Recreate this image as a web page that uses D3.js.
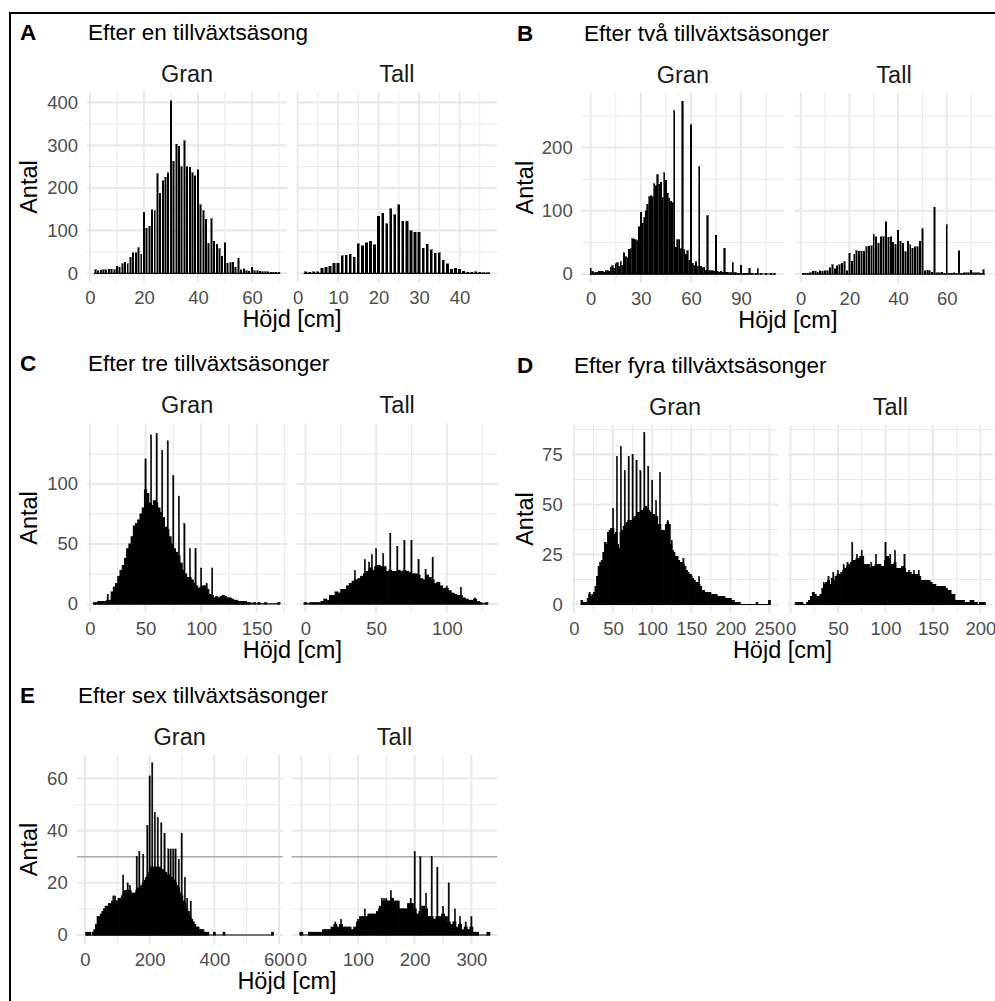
<!DOCTYPE html>
<html><head><meta charset="utf-8">
<script src="https://cdn.jsdelivr.net/npm/d3@7"></script>
<style>
html,body{margin:0;padding:0;background:#fff;}
svg{display:block;}
text{font-family:"Liberation Sans", Arial, Helvetica, sans-serif;}
</style></head><body>
<svg id="chart" width="995" height="1001"></svg>
<script>
// ================= DATA =================
const panelLetters = ["A","B","C","D","E"];
const panelTitles = ["Efter en tillväxtsäsong","Efter två tillväxtsäsonger","Efter tre tillväxtsäsonger","Efter fyra tillväxtsäsonger","Efter sex tillväxtsäsonger"];
const speciesNames = ["Gran","Tall"];
const xAxisTitle = "Höjd [cm]";
const yAxisTitle = "Antal";

// tick labels
const yTicksA = [0,100,200,300,400];
const yTicksB = [0,100,200];
const yTicksC = [0,50,100];
const yTicksD = [0,25,50,75];
const yTicksE = [0,20,40,60];
const xTicksAGran = [0,20,40,60];
const xTicksATall = [0,10,20,30,40];
const xTicksBGran = [0,30,60,90];
const xTicksBTall = [0,20,40,60];
const xTicksCGran = [0,50,100,150];
const xTicksCTall = [0,50,100];
const xTicksDGran = [0,50,100,150,200,250];
const xTicksDTall = [0,50,100,150,200];
const xTicksEGran = [0,200,400,600];
const xTicksETall = [0,100,200,300];

// counts per height class (cm). start = first class, bin = class width
const aGranStart = 2, aGranBin = 1;
const aGranCounts = [8,6,7,8,8,9,9,8,17,14,22,26,22,38,48,48,60,44,143,105,110,149,146,233,188,217,225,235,404,263,302,298,250,310,250,248,236,228,243,160,147,127,70,128,75,68,58,40,72,23,25,26,14,35,8,11,6,5,14,6,6,5,4,4,3,2,2,2,2];
const aTallStart = 2, aTallBin = 1;
const aTallCounts = [4,2,3,3,12,14,16,23,23,41,42,45,37,69,65,71,75,67,134,141,116,151,137,160,122,122,100,96,96,59,68,55,47,48,30,22,9,12,9,5,2,2,3,2,1,1];

const bGranStart = 0, bGranBin = 1;
const bGranCounts = [9,4,2,3,3,4,4,4,3,5, 5,4,11,13,9,16,18,12,19,14, 34,27,26,39,40,56,55,54,53,75, 98,80,90,100,110,122,124,122,143,140, 157,142,145,121,160,148,128,120,115,113, 258,42,54,54,40,273,38,31,37,22, 236,17,14,19,12,170,12,10,11,6, 92,6,5,5,4,61,4,3,4,3, 41,3,3,2,2,18,2,2,1,1, 14,1,1,1,1,9,1,1,0,1, 8,0,1,0,0,1,0,0,1,0,1];
const bTallStart = 1, bTallBin = 1;
const bTallCounts = [1,1,1,2,4,4,3,5,4,5, 5,10,15,8,13,15,17,19,5,33, 20,31,37,36,36,36,43,44,45,63, 59,49,59,59,83,58,59,50,47,69, 52,49,35,52,46,41,43,43,52,72, 5,6,5,3,106,2,2,3,1,78, 1,1,2,1,37,1,2,2,2,6, 2,2,2,1,7];

const cGranStart = 4, cGranBin = 2;
const cGranCounts = [1,1,2,2,2,2,3,3,10,14, 17,23,28,32,38,46,50,56,65,67, 70,75,80,95,92,84,82,86,84,80, 76,72,64,62,56,50,46,43,40,34, 28,25,22,22,20,17,15,13,14,15, 15,12,8,7,5,6,5,6,7,6, 5,5,4,3,3,2,2,2,2,1, 1,0,1,0,1,0,0,1,0,0, 0,0,0,1];
const cGranSpikes = [[16,8],[50,121],[55,141],[60,142],[65,128],[70,136],[75,107],[80,90],[85,67],[90,46],[95,46],[100,30],[105,17],[110,30]];
const cTallStart = 0, cTallBin = 2;
const cTallCounts = [1,0,1,1,1,1,2,4,3,7, 7,10,9,12,12,15,17,19,20,21, 23,25,27,30,28,31,32,31,31,27, 28,27,27,28,27,28,27,26,25,25, 24,21,20,24,22,20,17,18,15,13, 13,11,9,8,7,7,5,4,3,3, 4,2,1,0,1];
const cTallSpikes = [[35,28],[42,37],[45,35],[47,41],[50,46],[55,42],[60,59],[65,48],[70,53],[75,53],[80,37],[85,29],[90,39],[100,15],[110,14],[120,5]];

const dGranStart = 10, dGranBin = 2;
const dGranCounts = [2,1,1,1,3,5,4,5,6,9, 14,19,21,22,26,31,30,36,37,38, 38,35,36,30,28,36,37,39,40,41, 42,42,42,43,44,44,46,46,47,47, 48,49,48,47,46,45,45,44,44,40, 40,37,37,37,40,41,40,30,27,26, 24,24,22,21,21,20,19,17,16,15, 14,13,12,11,11,10,9,7,7,6, 6,6,6,5,5,5,5,4,4,4, 4,4,3,3,3,3,2,2,1,1, 1,1,0,0,0,0,0,0,0,0, 0,0,1,0,0,0,0,0,0,0, 2];
const dGranSpikes = [[20,6],[50,48],[55,74],[60,79],[65,67],[70,74],[75,75],[80,72],[85,67],[90,86],[95,69],[100,62],[105,52],[110,66],[120,42],[125,32],[140,23],[150,15],[160,14]];
const dTallStart = 6, dTallBin = 2;
const dTallCounts = [1,1,1,1,0,0,1,2,4,6, 5,4,4,5,8,10,11,12,10,13, 12,14,15,15,16,17,18,19,20,21, 22,22,23,23,24,24,20,20,20,18, 19,19,20,20,20,19,19,22,24,23, 20,20,21,18,18,18,19,18,16,16, 16,15,15,15,15,14,12,12,12,12, 12,11,10,10,9,9,9,9,9,8, 7,7,5,5,2,2,2,2,2,1, 1,1,2,2,1,1,0,1,1,1];
const dTallSpikes = [[35,11],[40,14],[45,16],[50,17],[56,20],[60,21],[65,31],[70,25],[75,27],[85,21],[90,25],[100,31],[105,25],[110,27],[120,25],[125,17],[130,17],[135,17]];

const eGranStart = 5, eGranBin = 5;
const eGranCounts = [1,1,1,0,1,2,4,7,7,8, 9,10,11,11,12,12,13,13,13,13, 14,14,15,16,17,17,17,17,16,16, 16,17,18,18,19,20,21,22,23,24, 26,26,26,26,26,26,25,25,24,24, 23,23,22,22,21,20,19,18,16,15, 13,12,10,9,7,6,5,4,3,3, 2,2,2,1,1,1,0,0,0,1, 0,0,0,0,0,1,0,0,0,0, 0,0,0,0,0,0,0,0,0,0, 0,0,0,0,0,0,0,0,0,0, 0,0,0,0,0,1];
const eGranSpikes = [[50,7],[60,10],[70,11],[88,15],[93,15],[118,23],[132,20],[139,19],[160,30],[168,32],[180,31],[193,42],[200,61],[208,66],[216,47],[225,45],[236,43],[246,39],[258,33],[265,33],[273,33],[280,33],[290,29],[299,39],[309,22],[316,14],[327,13]];
const eTallStart = 0, eTallBin = 5;
const eTallCounts = [1,0,0,1,1,1,1,1,2,2, 2,3,4,3,4,3,3,3,2,3, 5,7,7,7,8,8,8,9,11,13, 13,13,14,13,13,10,10,10,12,12, 10,8,9,11,10,7,7,6,7,7, 8,7,5,4,5,3,4,2,3,2, 3,1,1,0,0,0,1];
const eTallSpikes = [[55,3],[60,5],[70,6],[100,6],[112,10],[137,10],[142,14],[146,14],[150,14],[158,17],[193,14],[200,32],[210,30],[220,16],[230,30],[240,26],[250,11],[260,20],[271,10],[280,7],[290,5],[300,7]];
const eReferenceLine = 30;

// ================= LAYOUT =================
const FONT = '"Liberation Sans", Arial, Helvetica, sans-serif';
const blocks = [
  {letter:panelLetters[0], title:panelTitles[0], letterX:20, titleX:88, yTitleX:37, top:92.2, bottom:281.9, yDomain:[-20.2,424.2], yTicks:yTicksA,
   panels:[{x0:87,x1:287,xDomain:[-1.1,73],xTicks:xTicksAGran,start:aGranStart,bin:aGranBin,counts:aGranCounts,spikes:[],frac:0.55,sw:0.5,crisp:true},
           {x0:296.6,x1:497,xDomain:[-0.25,49.25],xTicks:xTicksATall,start:aTallStart,bin:aTallBin,counts:aTallCounts,spikes:[],frac:0.55,sw:0.5,crisp:true}]},
  {letter:panelLetters[1], title:panelTitles[1], letterX:517, titleX:584, yTitleX:533, top:92.7, bottom:282.6, yDomain:[-13.6,286.9], yTicks:yTicksB,
   panels:[{x0:581.7,x1:784,xDomain:[-5.4,115.7],xTicks:xTicksBGran,start:bGranStart,bin:bGranBin,counts:bGranCounts,spikes:[],frac:0.8,sw:0.6,crisp:true},
           {x0:794,x1:994,xDomain:[-2.75,79.4],xTicks:xTicksBTall,start:bTallStart,bin:bTallBin,counts:bTallCounts,spikes:[],frac:0.6,sw:0.5,crisp:true}]},
  {letter:panelLetters[2], title:panelTitles[2], letterX:20, titleX:88, yTitleX:37, top:423.3, bottom:612.6, yDomain:[-7.2,150.6], yTicks:yTicksC,
   panels:[{x0:87,x1:287.3,xDomain:[-2.7,177.6],xTicks:xTicksCGran,start:cGranStart,bin:cGranBin,counts:cGranCounts,spikes:cGranSpikes,frac:1,sw:1,crisp:false},
           {x0:296.7,x1:497.7,xDomain:[-6.2,136],xTicks:xTicksCTall,start:cTallStart,bin:cTallBin,counts:cTallCounts,spikes:cTallSpikes,frac:1,sw:1,crisp:false}]},
  {letter:panelLetters[3], title:panelTitles[3], letterX:517, titleX:574, yTitleX:533, top:425, bottom:613.1, yDomain:[-4.3,89.75], yTicks:yTicksD,
   panels:[{x0:571.7,x1:778.3,xDomain:[-2.9,261.3],xTicks:xTicksDGran,start:dGranStart,bin:dGranBin,counts:dGranCounts,spikes:dGranSpikes,frac:1,sw:1,crisp:false},
           {x0:787.3,x1:993.3,xDomain:[-3.4,213.5],xTicks:xTicksDTall,start:dTallStart,bin:dTallBin,counts:dTallCounts,spikes:dTallSpikes,frac:1,sw:1,crisp:false}]},
  {letter:panelLetters[4], title:panelTitles[4], letterX:20, titleX:78, yTitleX:37, top:755, bottom:944, yDomain:[-3.45,69], yTicks:yTicksE, refLine:eReferenceLine,
   panels:[{x0:76.7,x1:282.7,xDomain:[-25.7,611.5],xTicks:xTicksEGran,start:eGranStart,bin:eGranBin,counts:eGranCounts,spikes:eGranSpikes,frac:1,sw:1,crisp:false},
           {x0:291.7,x1:497.3,xDomain:[-17,345.7],xTicks:xTicksETall,start:eTallStart,bin:eTallBin,counts:eTallCounts,spikes:eTallSpikes,frac:1,sw:1,crisp:false}]}
];

const svg = d3.select("#chart");
svg.append("rect").attr("width",995).attr("height",1001).attr("fill","#fff");

function minorBreaks(b, dom){
  const d = b[1]-b[0];
  const ext = [b[0]-d, ...b, b[b.length-1]+d];
  const m = [];
  for(let i=0;i<ext.length-1;i++) m.push((ext[i]+ext[i+1])/2);
  return m.filter(v=>v>=dom[0] && v<=dom[1]);
}

const GRID = "#e9e9e9";
const TICKFS = 18.5;

blocks.forEach(blk => {
  const g = svg.append("g");
  const y = d3.scaleLinear().domain(blk.yDomain).range([blk.bottom, blk.top]);
  const yMinor = minorBreaks(blk.yTicks, blk.yDomain);

  blk.panels.forEach((p, pi) => {
    const x = d3.scaleLinear().domain(p.xDomain).range([p.x0, p.x1]);
    const pg = g.append("g");
    const xMinor = minorBreaks(p.xTicks, p.xDomain);
    // minor grid
    pg.append("g").selectAll("line").data(yMinor).join("line")
      .attr("x1",p.x0).attr("x2",p.x1).attr("y1",d=>y(d)).attr("y2",d=>y(d))
      .attr("stroke",GRID).attr("stroke-width",1);
    pg.append("g").selectAll("line").data(xMinor).join("line")
      .attr("y1",blk.top).attr("y2",blk.bottom).attr("x1",d=>x(d)).attr("x2",d=>x(d))
      .attr("stroke",GRID).attr("stroke-width",1);
    // major grid
    pg.append("g").selectAll("line").data(blk.yTicks).join("line")
      .attr("x1",p.x0).attr("x2",p.x1).attr("y1",d=>y(d)).attr("y2",d=>y(d))
      .attr("stroke",GRID).attr("stroke-width",2);
    pg.append("g").selectAll("line").data(p.xTicks.filter(t=>t>=p.xDomain[0]&&t<=p.xDomain[1])).join("line")
      .attr("y1",blk.top).attr("y2",blk.bottom).attr("x1",d=>x(d)).attr("x2",d=>x(d))
      .attr("stroke",GRID).attr("stroke-width",2);
    // reference line
    if (blk.refLine !== undefined) {
      pg.append("line").attr("x1",p.x0).attr("x2",p.x1)
        .attr("y1",y(blk.refLine)).attr("y2",y(blk.refLine))
        .attr("stroke","#aaaaaa").attr("stroke-width",1.5);
    }
    // baseline (empty classes)
    const last = p.start + (p.counts.length-1)*p.bin;
    pg.append("line").attr("x1",x(p.start - p.bin/2)).attr("x2",x(last + p.bin/2))
      .attr("y1",y(0)).attr("y2",y(0)).attr("stroke","#000").attr("stroke-width",1.2);
    // bars
    const bars = p.counts.map((c,i)=>({v:p.start+i*p.bin, c:c})).filter(d=>d.c>0);
    const hw = p.frac*p.bin/2;
    const bg = pg.append("g");
    if (p.crisp) bg.attr("shape-rendering","crispEdges");
    bg.selectAll("rect").data(bars).join("rect")
      .attr("x",d=>x(d.v-hw)).attr("width",d=>x(d.v+hw)-x(d.v-hw))
      .attr("y",d=>y(d.c)).attr("height",d=>y(0)-y(d.c))
      .attr("fill","#000").attr("stroke","#000").attr("stroke-width",p.sw);
    // spikes (single-cm classes)
    const spw = d => Math.max(1.3, x(d[0]+0.25)-x(d[0]-0.25));
    pg.append("g").selectAll("rect").data(p.spikes).join("rect")
      .attr("x",d=>x(d[0])-spw(d)/2).attr("width",spw)
      .attr("y",d=>y(d[1])).attr("height",d=>y(0)-y(d[1]))
      .attr("fill","#000").attr("stroke","#000").attr("stroke-width",0.4);

    // x axis
    const xa = pg.append("g").attr("transform",`translate(0,${blk.bottom})`)
      .call(d3.axisBottom(x).tickValues(p.xTicks).tickSize(0).tickPadding(9).tickFormat(d3.format("d")));
    xa.select(".domain").remove();
    xa.selectAll("text").attr("font-family",FONT).attr("font-size",TICKFS).attr("fill","#4d4d4d");

    // y axis for first panel only
    if (pi === 0) {
      const ya = pg.append("g").attr("transform",`translate(${p.x0},0)`)
        .call(d3.axisLeft(y).tickValues(blk.yTicks).tickSize(0).tickPadding(9).tickFormat(d3.format("d")));
      ya.select(".domain").remove();
      ya.selectAll("text").attr("font-family",FONT).attr("font-size",TICKFS).attr("fill","#4d4d4d");
    }
    // strip label
    pg.append("text").attr("x",(p.x0+p.x1)/2).attr("y",blk.top-10)
      .attr("text-anchor","middle").attr("font-size",23.5).attr("fill","#1a1a1a")
      .text(speciesNames[pi]);
  });

  // x title
  const cx = (blk.panels[0].x0 + blk.panels[1].x1)/2;
  g.append("text").attr("x",cx).attr("y",blk.bottom+45).attr("text-anchor","middle")
    .attr("font-size",23.5).attr("fill","#000").text(xAxisTitle);
  // y title
  const cy = (blk.top + blk.bottom)/2;
  g.append("text").attr("transform",`translate(${blk.yTitleX},${cy}) rotate(-90)`)
    .attr("text-anchor","middle").attr("font-size",23.5).attr("fill","#000").text(yAxisTitle);
  // title & letter
  g.append("text").attr("x",blk.titleX).attr("y",blk.top-52).attr("font-size",22.5).attr("fill","#000").text(blk.title);
  g.append("text").attr("x",blk.letterX).attr("y",blk.top-52).attr("font-size",22.5).attr("font-weight","bold").attr("fill","#000").text(blk.letter);
});

// outer frame (top and left edges)
svg.append("path").attr("d","M10,1001 V13 H995").attr("fill","none").attr("stroke","#000").attr("stroke-width",2);
</script>
</body></html>
